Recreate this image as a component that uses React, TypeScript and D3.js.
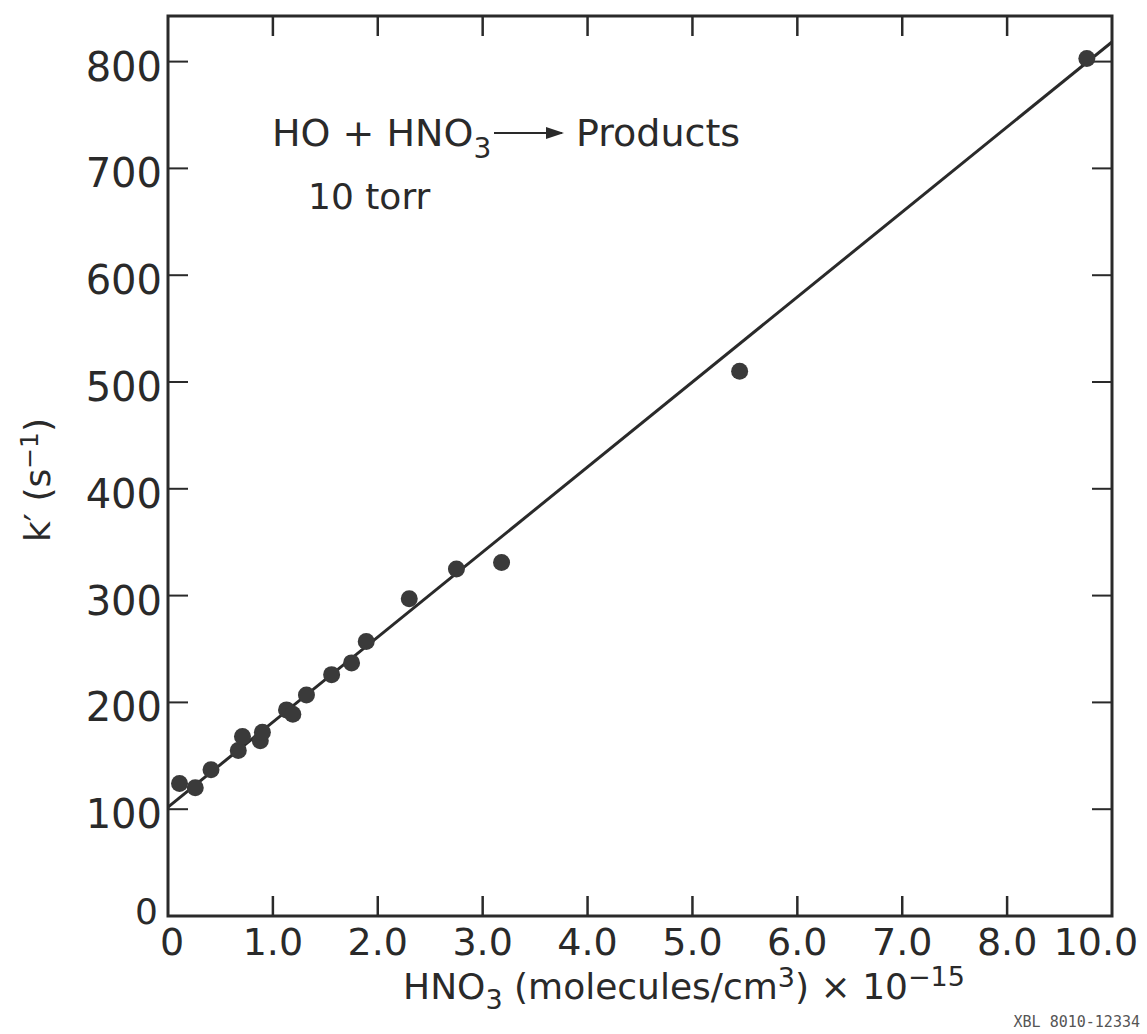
import React from "react";
import * as d3 from "d3";

// Pseudo-first-order decay constant k' vs. HNO3 concentration (HO + HNO3, 10 torr)
const xPositions = [0, 1, 2, 3, 4, 5, 6, 7, 8, 9];
const xTickLabels = ["0", "1.0", "2.0", "3.0", "4.0", "5.0", "6.0", "7.0", "8.0", "10.0"];
const yTicks = [0, 100, 200, 300, 400, 500, 600, 700, 800];

const hno3 = [0.11, 0.26, 0.41, 0.67, 0.71, 0.88, 0.9, 1.13, 1.19, 1.32, 1.56, 1.75, 1.89, 2.3, 2.75, 3.18, 5.45, 8.76];
const kPrime = [124, 120, 137, 155, 168, 164, 172, 193, 189, 207, 226, 237, 257, 297, 325, 331, 510, 803];

// Fitted straight line: intercept and slope
const fitIntercept = 102;
const fitSlope = 79.6;

const W = 1147;
const H = 1034;
const left = 168;
const right = 1112;
const top = 16;
const bottom = 916;

const FONT = "'DejaVu Sans', sans-serif";
const INK = "#2a2a2a";

export default function App() {
  const x = d3.scaleLinear().domain([0, 9]).range([left, right]);
  const y = d3.scaleLinear().domain([0, 800]).range([bottom, bottom - 800 * 1.068]);

  const fitLine = d3
    .line<number>()
    .x((d) => x(d))
    .y((d) => y(fitIntercept + fitSlope * d));

  const points = hno3.map((v, i) => ({ x: v, y: kPrime[i] }));
  const tickLen = 20;

  return (
    <svg
      width={W}
      height={H}
      style={{ position: "absolute", left: 0, top: 0, background: "#fff" }}
      fontFamily={FONT}
    >
      <defs>
        <clipPath id="plotArea">
          <rect x={left} y={top} width={right - left} height={bottom - top} />
        </clipPath>
      </defs>

      {/* frame */}
      <rect
        x={left}
        y={top}
        width={right - left}
        height={bottom - top}
        fill="none"
        stroke={INK}
        strokeWidth={3}
      />

      {/* x ticks, bottom and top */}
      {xPositions.slice(1, -1).map((v) => (
        <g key={"xt" + v} stroke={INK} strokeWidth={2.5}>
          <line x1={x(v)} x2={x(v)} y1={bottom} y2={bottom - tickLen} />
          <line x1={x(v)} x2={x(v)} y1={top} y2={top + tickLen} />
        </g>
      ))}

      {/* y ticks, left and right */}
      {yTicks.slice(1).map((v) => (
        <g key={"yt" + v} stroke={INK} strokeWidth={2}>
          <line x1={left} x2={left + tickLen} y1={y(v)} y2={y(v)} />
          <line x1={right} x2={right - tickLen} y1={y(v)} y2={y(v)} />
        </g>
      ))}

      {/* x tick labels */}
      {xPositions.map((v, i) => (
        <text
          key={"xl" + v}
          x={x(v) + (i === xPositions.length - 1 ? -16 : i === 0 ? 4 : 0)}
          y={955}
          textAnchor="middle"
          fontSize={38}
          fill={INK}
        >
          {xTickLabels[i]}
        </text>
      ))}

      {/* y tick labels */}
      {yTicks.map((v) => (
        <text
          key={"yl" + v}
          x={v === 0 ? 158 : 162}
          y={y(v) + (v === 0 ? 8 : 19)}
          textAnchor="end"
          fontSize={v === 0 ? 36 : 40}
          fill={INK}
        >
          {v}
        </text>
      ))}

      {/* fitted line */}
      <path
        d={fitLine([0, 9]) || ""}
        fill="none"
        stroke={INK}
        strokeWidth={3}
        clipPath="url(#plotArea)"
      />

      {/* measurements */}
      {points.map((p, i) => (
        <circle key={"p" + i} cx={x(p.x)} cy={y(p.y)} r={8.5} fill="#3a3a3a" />
      ))}

      {/* reaction annotation */}
      <text x={272} y={146} fontSize={38} fill={INK}>
        HO + HNO
        <tspan dy={12} fontSize={28}>3</tspan>
      </text>
      <line x1={494} x2={562} y1={133} y2={133} stroke={INK} strokeWidth={2} />
      <path d="M564,133 L546,127 L546,139 Z" fill={INK} />
      <text x={576} y={146} fontSize={38} fill={INK}>
        Products
      </text>
      <text x={308} y={209} fontSize={36} fill={INK}>
        10 torr
      </text>

      {/* y axis title */}
      <text
        transform={`translate(50, 480) rotate(-90)`}
        textAnchor="middle"
        fontSize={36}
        fill={INK}
      >
        k′ (s
        <tspan dy={-12} fontSize={25}>−1</tspan>
        <tspan dy={12}>)</tspan>
      </text>

      {/* x axis title */}
      <text x={684} y={999} textAnchor="middle" fontSize={36} fill={INK}>
        HNO
        <tspan dy={10} fontSize={27}>3</tspan>
        <tspan dy={-10}> (molecules/cm</tspan>
        <tspan dy={-12} fontSize={27}>3</tspan>
        <tspan dy={12}>) × 10</tspan>
        <tspan dy={-13} fontSize={27}>−15</tspan>
      </text>

      {/* figure code */}
      <text
        x={1140}
        y={1027}
        textAnchor="end"
        fontSize={15}
        fill="#555"
        fontFamily="'DejaVu Sans Mono', monospace"
      >
        XBL 8010-12334
      </text>
    </svg>
  );
}
